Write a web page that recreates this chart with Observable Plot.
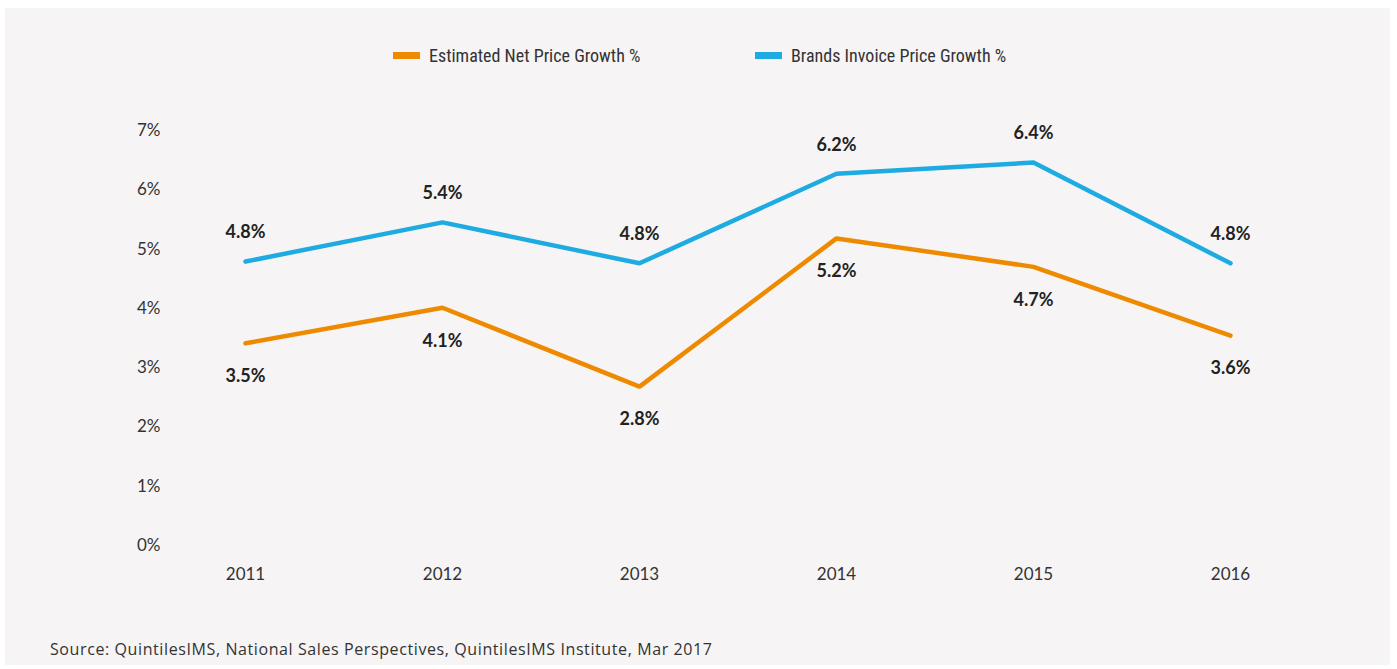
<!DOCTYPE html>
<html>
<head>
<meta charset="utf-8">
<script src="https://cdn.jsdelivr.net/npm/d3@7"></script>
<script src="https://cdn.jsdelivr.net/npm/@observablehq/plot@0.6"></script>
<style>
  html, body { margin: 0; padding: 0; background: #ffffff; }
  #wrap { position: relative; width: 1397px; height: 669px; overflow: hidden; font-family: Lato, "Open Sans", sans-serif; }
  #panel { position: absolute; left: 5px; top: 8px; width: 1385px; height: 657px; background: #f6f4f5; }
  #chart { position: absolute; left: 0; top: 0; }
  #legend { position: absolute; top: 44px; left: 0; width: 1397px; height: 24px; font-family: "Liberation Sans Narrow", "Roboto Condensed", Roboto, sans-serif; font-size: 18px; color: #333; }
  .item { position: absolute; top: 0; display: flex; align-items: center; height: 22px; }
  .sw { width: 27px; height: 7px; margin-right: 9px; }
  #source { position: absolute; left: 50px; top: 638px; font-size: 16px; letter-spacing: 0.6px; color: #333; font-family: "Open Sans", Lato, sans-serif; }
</style>
</head>
<body>
<div id="wrap">
  <div id="panel"></div>
  <div id="chart"></div>
  <div id="legend"></div>
  <div id="source"></div>
</div>
<script>
const years = [2011, 2012, 2013, 2014, 2015, 2016];
const netGrowth = [3.41, 4.01, 2.68, 5.18, 4.70, 3.54];
const netLabels = [3.5, 4.1, 2.8, 5.2, 4.7, 3.6];
const invoiceGrowth = [4.79, 5.45, 4.76, 6.27, 6.46, 4.76];
const invoiceLabels = [4.8, 5.4, 4.8, 6.2, 6.4, 4.8];
const yTicks = [0, 1, 2, 3, 4, 5, 6, 7];
const seriesNames = ["Estimated Net Price Growth %", "Brands Invoice Price Growth %"];
const seriesColors = ["#ee8a00", "#1eabe2"];
const sourceText = "Source: QuintilesIMS, National Sales Perspectives, QuintilesIMS Institute, Mar 2017";

const net = years.map((y, i) => ({year: y, value: netGrowth[i], label: netLabels[i]}));
const inv = years.map((y, i) => ({year: y, value: invoiceGrowth[i], label: invoiceLabels[i]}));
const fmt = v => v.toFixed(1) + "%";

const plot = Plot.plot({
  width: 1397,
  height: 669,
  marginLeft: 244,
  marginRight: 166,
  marginTop: 130,
  marginBottom: 124,
  style: {background: "transparent", fontFamily: "Lato, 'Open Sans', sans-serif", color: "#333"},
  x: {type: "point", domain: years, padding: 0},
  y: {domain: [0, 7]},
  marks: [
    Plot.axisY({ticks: yTicks, tickSize: 0, tickPadding: 84, tickFormat: d => d + "%", fontSize: 17, fill: "#333", label: null}),
    Plot.axisX({tickSize: 0, tickPadding: 22, fontSize: 17, fill: "#333", label: null, tickFormat: d => String(d)}),
    Plot.line(net, {x: "year", y: "value", stroke: seriesColors[0], strokeWidth: 4.5, strokeLinecap: "round", strokeLinejoin: "miter"}),
    Plot.line(inv, {x: "year", y: "value", stroke: seriesColors[1], strokeWidth: 4.5, strokeLinecap: "round", strokeLinejoin: "miter"}),
    Plot.text(inv, {x: "year", y: "value", text: d => fmt(d.label), dy: -29, fontSize: 18, fontWeight: "bold", fill: "#222"}),
    Plot.text(net, {x: "year", y: "value", text: d => fmt(d.label), dy: 33, fontSize: 18, fontWeight: "bold", fill: "#222"})
  ]
});
document.getElementById("chart").appendChild(plot);

const legend = document.getElementById("legend");
const lefts = [393, 755];
seriesNames.forEach((n, i) => {
  const it = document.createElement("div");
  it.className = "item";
  it.style.left = lefts[i] + "px";
  const sw = document.createElement("span");
  sw.className = "sw";
  sw.style.background = seriesColors[i];
  const t = document.createElement("span");
  t.textContent = n;
  it.appendChild(sw); it.appendChild(t);
  legend.appendChild(it);
});
document.getElementById("source").textContent = sourceText;
</script>
</body>
</html>
